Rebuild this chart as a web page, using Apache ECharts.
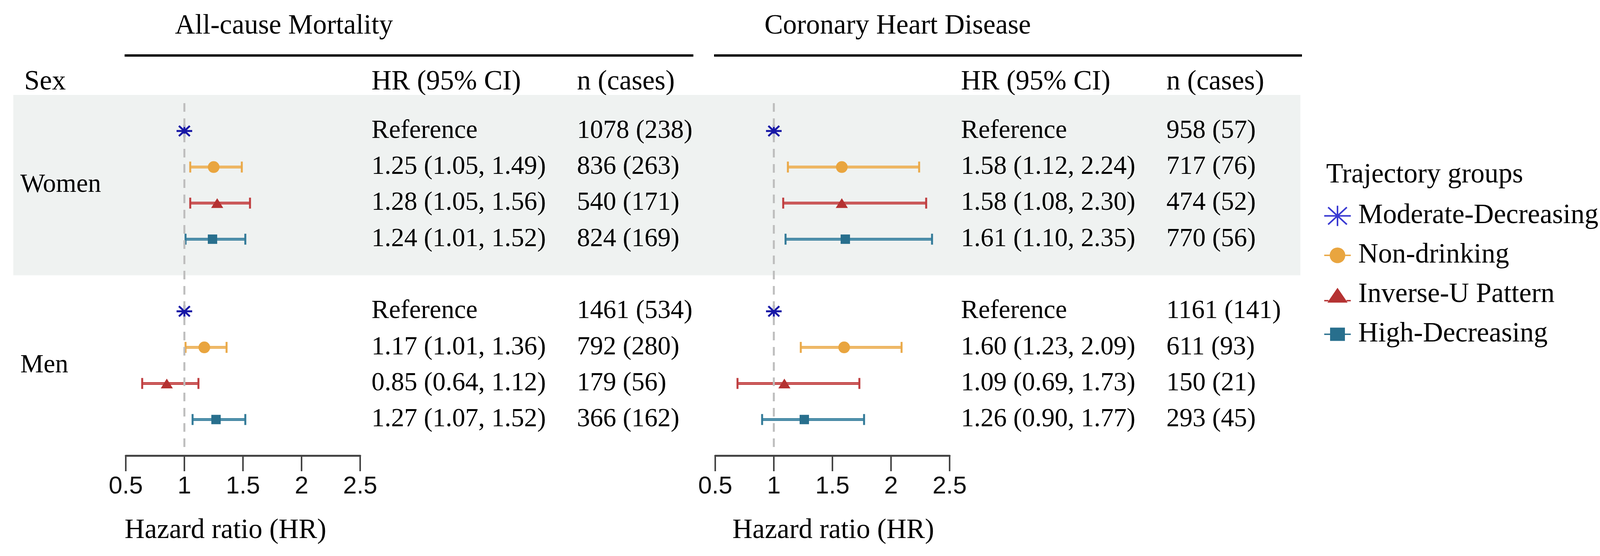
<!DOCTYPE html>
<html>
<head>
<meta charset="utf-8">
<script src="https://cdn.jsdelivr.net/npm/echarts@6/dist/echarts.min.js"></script>
<style>
html, body { margin: 0; padding: 0; background: #fff; }
#main { width: 4146px; height: 1423px; }
</style>
</head>
<body>
<div id="main"></div>
<script>
const groups = ['Moderate-Decreasing', 'Non-drinking', 'Inverse-U Pattern', 'High-Decreasing'];
const sexes = ['Women', 'Men'];
const outcomes = ['All-cause Mortality', 'Coronary Heart Disease'];
const xTicks = [0.5, 1, 1.5, 2, 2.5];

// rows = sex (Women, Men), columns = trajectory group; Moderate-Decreasing is the reference
const acmHR    = [[1, 1.25, 1.28, 1.24], [1, 1.17, 0.85, 1.27]];
const acmLow   = [[null, 1.05, 1.05, 1.01], [null, 1.01, 0.64, 1.07]];
const acmHigh  = [[null, 1.49, 1.56, 1.52], [null, 1.36, 1.12, 1.52]];
const acmN     = [[1078, 836, 540, 824], [1461, 792, 179, 366]];
const acmCases = [[238, 263, 171, 169], [534, 280, 56, 162]];

const chdHR    = [[1, 1.58, 1.58, 1.61], [1, 1.60, 1.09, 1.26]];
const chdLow   = [[null, 1.12, 1.08, 1.10], [null, 1.23, 0.69, 0.90]];
const chdHigh  = [[null, 2.24, 2.30, 2.35], [null, 2.09, 1.73, 1.77]];
const chdN     = [[958, 717, 474, 770], [1161, 611, 150, 293]];
const chdCases = [[57, 76, 52, 56], [141, 93, 21, 45]];

const panels = [
  { hr: acmHR, low: acmLow, high: acmHigh, n: acmN, cases: acmCases },
  { hr: chdHR, low: chdLow, high: chdHigh, n: chdN, cases: chdCases }
];

const serif = 'Liberation Serif';
const sans = 'Liberation Sans';
const pointColors = ['#1717a6', '#e9a53f', '#b53232', '#286f8d'];
const barColors = ['#1717a6', '#eaa948', '#bf3d3f', '#327a98'];
const barInner = ['#1717a6', '#f2c27a', '#d36c6c', '#5f9db8'];
const legendColors = ['#3a3ad2', '#e9a53f', '#b53232', '#286f8d'];
const panelLeft = [322, 1831];
const axisNameLeft = [319, 1875];
const gridTop = 266, gridH = 900, gridW = 600;

function row(s, g) { return s * 5 + g; }

// thin filled bar between two points (same winding for every arm)
function arm(x1, y1, x2, y2, t) {
  const dx = x2 - x1, dy = y2 - y1, len = Math.hypot(dx, dy);
  const nx = -dy / len * t / 2, ny = dx / len * t / 2;
  const p = [[x1 + nx, y1 + ny], [x2 + nx, y2 + ny], [x2 - nx, y2 - ny], [x1 - nx, y1 - ny]];
  return 'M' + p.map(q => q[0].toFixed(2) + ',' + q[1].toFixed(2)).join('L') + 'Z';
}
function asterisk(w, h, t, dw, dh) {
  const cx = w / 2, cy = h / 2;
  return arm(0, cy, w, cy, t) + arm(cx, 0, cx, h, t) +
    arm(cx - dw, cy - dh, cx + dw, cy + dh, t) + arm(cx + dw, cy - dh, cx - dw, cy + dh, t);
}
const anchors = 'M0,0L0,0M68,52L68,52';
const legendIcons = [
  'path://' + asterisk(68, 52, 4, 24, 22),
  'path://' + anchors + 'M14,26A20,20 0 1 1 54,26A20,20 0 1 1 14,26Z' + arm(0, 26, 14, 26, 3.5) + arm(54, 26, 68, 26, 3.5),
  'path://' + anchors + 'M34,8L60,46L8,46Z' + arm(0, 41, 11, 41, 3.5) + arm(57, 41, 68, 41, 3.5),
  'path://' + anchors + 'M15,9L53,9L53,43L15,43Z' + arm(0, 26, 15, 26, 3.5) + arm(53, 26, 68, 26, 3.5)
];
const pointSymbols = ['path://' + asterisk(40, 32, 5, 14, 13), 'circle', 'triangle', 'rect'];
const pointSizes = [[40, 32], 30, [31, 25], [24, 24]];

function fmt(v) { return v.toFixed(2); }

const grid = panelLeft.map(l => ({ left: l, top: gridTop, width: gridW, height: gridH }));
const xAxis = panelLeft.map((l, i) => ({
  type: 'value', gridIndex: i, min: xTicks[0], max: xTicks[xTicks.length - 1], interval: 0.5,
  position: 'bottom',
  splitLine: { show: false },
  axisLine: { show: true, onZero: false, lineStyle: { color: '#444', width: 5 } },
  axisTick: { show: true, length: 40, lineStyle: { color: '#444', width: 4 } },
  axisLabel: { fontFamily: sans, fontSize: 63, color: '#111', margin: 48 }
}));
const yAxis = panelLeft.map((l, i) => ({
  type: 'value', gridIndex: i, min: -0.75, max: 9, inverse: true, show: false
}));

const series = [];

// shaded band behind the Women rows
series.push({
  type: 'custom', xAxisIndex: 0, yAxisIndex: 0, silent: true, z: 0,
  data: [[1, -1, 4]],
  renderItem: function (params, api) {
    const y1 = api.coord([1, api.value(1)])[1];
    const y2 = api.coord([1, api.value(2)])[1];
    return { type: 'rect', shape: { x: 34, y: y1, width: 3295, height: y2 - y1 }, style: { fill: '#eff2f1' } };
  }
});

// sex labels
series.push({
  type: 'custom', xAxisIndex: 0, yAxisIndex: 0, silent: true,
  data: sexes.map((s, i) => [1, row(i, 1.5), i]),
  renderItem: function (params, api) {
    const y = api.coord([1, api.value(1)])[1];
    return { type: 'text', style: { text: sexes[api.value(2)], x: 52, y: y, fill: '#000',
      fontFamily: serif, fontSize: 67, align: 'left', verticalAlign: 'middle' } };
  }
});

panels.forEach((p, pi) => {
  groups.forEach((name, g) => {
    if (g > 0) {
      series.push({
        name: name, type: 'custom', xAxisIndex: pi, yAxisIndex: pi, silent: true, z: 2,
        data: sexes.map((s, si) => [p.low[si][g], p.high[si][g], row(si, g)]),
        renderItem: function (params, api) {
          const a = api.coord([api.value(0), api.value(2)]);
          const b = api.coord([api.value(1), api.value(2)]);
          const st = { stroke: barColors[g], lineWidth: 7 };
          const cap = { stroke: barColors[g], lineWidth: 5 };
          return { type: 'group', children: [
            { type: 'line', shape: { x1: a[0], y1: a[1], x2: b[0], y2: b[1] }, style: st },
            { type: 'line', shape: { x1: a[0], y1: a[1], x2: b[0], y2: b[1] }, style: { stroke: barInner[g], lineWidth: 2.5 } },
            { type: 'line', shape: { x1: a[0], y1: a[1] - 14, x2: a[0], y2: a[1] + 14 }, style: cap },
            { type: 'line', shape: { x1: b[0], y1: b[1] - 14, x2: b[0], y2: b[1] + 14 }, style: cap }
          ] };
        }
      });
    }
    series.push({
      name: name, type: 'scatter', xAxisIndex: pi, yAxisIndex: pi, silent: true, z: 3,
      symbol: pointSymbols[g], symbolSize: pointSizes[g],
      itemStyle: { color: pointColors[g], opacity: 1 },
      data: sexes.map((s, si) => [p.hr[si][g], row(si, g)])
    });
  });

  // dashed reference line at HR = 1
  series.push({
    type: 'custom', xAxisIndex: pi, yAxisIndex: pi, silent: true, z: 4,
    data: [[1, 0]],
    renderItem: function (params, api) {
      const x = api.coord([api.value(0), 0])[0];
      const cs = params.coordSys;
      return { type: 'line', shape: { x1: x, y1: cs.y - 2, x2: x, y2: cs.y + cs.height - 10 },
        style: { stroke: '#bdbdbd', lineWidth: 5, lineDash: [22, 17] } };
    }
  });

  // HR (95% CI) and n (cases) columns
  const rowsData = [];
  sexes.forEach((s, si) => groups.forEach((name, g) => rowsData.push([1, row(si, g), si, g])));
  series.push({
    type: 'custom', xAxisIndex: pi, yAxisIndex: pi, silent: true, z: 2,
    data: rowsData,
    renderItem: function (params, api) {
      const y = api.coord([1, api.value(1)])[1];
      const si = api.value(2), g = api.value(3);
      const x0 = params.coordSys.x;
      const hrText = g === 0 ? 'Reference'
        : fmt(p.hr[si][g]) + ' (' + fmt(p.low[si][g]) + ', ' + fmt(p.high[si][g]) + ')';
      const nText = p.n[si][g] + ' (' + p.cases[si][g] + ')';
      const base = { fill: '#000', fontFamily: serif, fontSize: 67, align: 'left', verticalAlign: 'middle' };
      return { type: 'group', children: [
        { type: 'text', style: Object.assign({ text: hrText, x: x0 + 629, y: y }, base) },
        { type: 'text', style: Object.assign({ text: nText, x: x0 + 1155, y: y }, base) }
      ] };
    }
  });
});

const graphic = [];
const txt = (text, x, y, size) => ({ type: 'text', silent: true,
  style: { text: text, x: x, y: y, fill: '#000', fontFamily: serif, fontSize: size, align: 'left', verticalAlign: 'middle' } });
outcomes.forEach((o, pi) => {
  const l = panelLeft[pi];
  graphic.push(txt(o, l + 126, 67, 71));
  graphic.push({ type: 'line', silent: true, shape: { x1: l - 3, y1: 142, x2: l + (pi === 0 ? 1453 : 1502), y2: 142 },
    style: { stroke: '#000', lineWidth: 6 } });
  graphic.push(txt('HR (95% CI)', l + 629, 210, 71));
  graphic.push(txt('n (cases)', l + 1155, 210, 71));
  graphic.push(txt('Hazard ratio (HR)', axisNameLeft[pi], 1358, 71));
});
graphic.push(txt('Sex', 62, 210, 71));
graphic.push(txt('Trajectory groups', 3395, 448, 71));

const chart = echarts.init(document.getElementById('main'));
chart.setOption({
  animation: false,
  backgroundColor: '#fff',
  grid: grid,
  xAxis: xAxis,
  yAxis: yAxis,
  legend: {
    orient: 'vertical', left: 3385, top: 512,
    itemWidth: 68, itemHeight: 52, itemGap: 30,
    selectedMode: false,
    textStyle: { fontFamily: serif, fontSize: 71, color: '#000', lineHeight: 60, padding: [0, 0, 0, 14] },
    data: groups.map((g, i) => ({ name: g, icon: legendIcons[i], itemStyle: { color: legendColors[i], borderWidth: 0 } }))
  },
  graphic: graphic,
  series: series
});
</script>
</body>
</html>
